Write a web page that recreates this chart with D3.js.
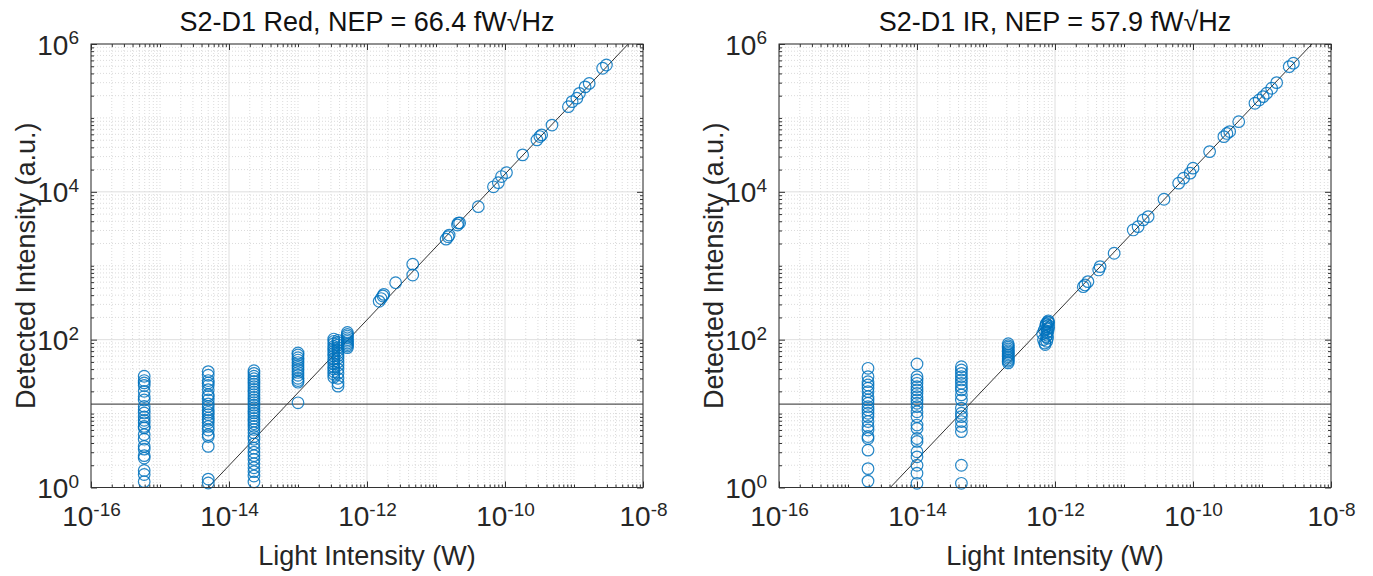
<!DOCTYPE html>
<html>
<head>
<meta charset="utf-8">
<script src="https://cdn.jsdelivr.net/npm/d3@7"></script>
<style>
  body { margin: 0; background: #fff; }
  svg { display: block; font-family: "Liberation Sans", Arial, Helvetica, sans-serif; }
</style>
</head>
<body>
<div id="chart"></div>
<script>
// ---- data ----
// Red panel: low-power columns (one light level, many repeats)
const redColumnsX = [5.9e-16, 5.0e-15, 2.3e-14, 1.0e-13, 3.3e-13, 3.8e-13, 5.2e-13];
const redColumnsY = [
  [32, 28, 26, 24, 20, 17, 15.3, 12.5, 11.3, 10.2, 9.0, 8.1, 7.5, 6.7, 6.4, 5.2, 4.5, 3.6, 3.3, 2.7, 2.5, 1.7, 1.5, 1.2],
  [37, 33, 28, 26, 24, 21, 18, 17, 15.3, 13.5, 12.5, 11.3, 10.4, 9.7, 8.7, 8.1, 7.5, 6.7, 6.0, 5.2, 4.9, 3.6, 1.3, 1.15],
  [38, 35, 32, 29.6, 27.3, 25.1, 23.2, 21.3, 19.6, 18.1, 16.6, 15.3, 14.1, 13.0, 12.0, 11.0, 10.2, 9.4, 8.6, 7.9, 7.3,
   6.7, 6.1, 5.5, 4.9, 4.5, 3.9, 3.4, 3.0, 2.7, 2.4, 2.1, 1.85, 1.64, 1.43, 1.19],
  [66, 62, 57, 53, 49, 45, 42, 39, 36, 33, 30, 28, 26.6, 14],
  [102, 95, 88, 81, 76, 70, 65, 60, 55, 51, 47, 43, 40, 37, 34, 31],
  [98, 92, 85, 78, 72, 66, 61, 56, 50, 45, 40, 35, 30, 26, 23.5],
  [125, 118, 112, 106, 100, 95, 90, 86, 82, 78]
];
// Red panel: linear range
const redLinearX = [1.5e-12, 1.6e-12, 1.7e-12, 1.75e-12, 2.6e-12, 4.6e-12, 4.6e-12,
  1.4e-11, 1.5e-11, 1.55e-11, 2.05e-11, 2.1e-11, 2.2e-11, 4.1e-11,
  6.8e-11, 8.0e-11, 8.9e-11, 1.05e-10, 1.8e-10, 2.9e-10, 3.2e-10, 3.4e-10, 4.8e-10,
  8.3e-10, 9.4e-10, 1.1e-9, 1.2e-9, 1.45e-9, 1.66e-9, 2.6e-9, 2.95e-9];
const redLinearY = [330, 360, 390, 410, 590, 1050, 750,
  2290, 2470, 2600, 3560, 3780, 3800, 6300,
  11700, 13300, 16100, 18200, 31600, 50400, 56000, 59000, 80000,
  142000, 166000, 185000, 215000, 263000, 293000, 470000, 520000];
const redFitX = [5.0e-15, 6.1e-9];
const redFitY = [1, 1e6];

// IR panel
const irColumnsX = [1.95e-15, 1.0e-14, 4.4e-14, 2.1e-13];
const irColumnsY = [
  [41, 31.6, 27, 24.4, 22, 19.8, 16.9, 15.3, 13.8, 12.4, 11.2, 10.1, 9.1, 7.8, 6.7, 6.0, 4.9, 4.6, 3.2, 1.8, 1.22],
  [47, 31.6, 28.5, 25.7, 23.1, 20.9, 18.8, 16.9, 15.3, 13.8, 12.4, 10.6, 9.1, 7.0, 6.3, 4.6, 4.2, 3.05, 2.6, 2.0, 1.56, 1.14],
  [43, 38.9, 35, 31.6, 28.5, 25.7, 23.1, 20.9, 17.9, 15.3, 11.8, 10.1, 9.1, 7.8, 6.7, 5.7, 2.0, 1.14],
  [88, 83, 79, 75, 71, 68, 65, 62, 59, 56, 53, 51, 48.5]
];
const irLinearX = [6.6e-13, 6.8e-13, 7.0e-13, 7.1e-13, 7.3e-13, 7.4e-13, 7.5e-13, 7.6e-13, 7.7e-13, 7.8e-13,
  7.9e-13, 8.0e-13, 8.1e-13, 7.2e-13, 7.6e-13, 7.9e-13, 8.1e-13, 7.4e-13, 7.7e-13, 8.0e-13,
  2.57e-12, 2.72e-12, 3.0e-12, 4.3e-12, 4.5e-12, 7.2e-12,
  1.36e-11, 1.6e-11, 1.9e-11, 2.24e-11, 3.8e-11,
  6.2e-11, 7.3e-11, 9.1e-11, 1.0e-10, 1.74e-10,
  2.8e-10, 3.1e-10, 3.4e-10, 4.6e-10,
  7.9e-10, 9.1e-10, 1.04e-9, 1.17e-9, 1.38e-9, 1.63e-9, 2.48e-9, 2.85e-9];
const irLinearY = [120, 100, 135, 90, 150, 110, 165, 125, 140, 105,
  174, 155, 170, 86, 95, 130, 145, 160, 115, 180,
  521, 550, 610, 877, 973, 1476,
  3050, 3380, 4170, 4620, 7940,
  13100, 15300, 17900, 20900, 35000,
  55800, 61600, 65300, 89000,
  158000, 175000, 194000, 216000, 252000, 300000, 494000, 550000];
const irFitX = [4.1e-15, 5.3e-9];
const irFitY = [1, 1e6];

const noiseFloor = 13.4;
const xDomain = [1e-16, 1e-8];
const yDomain = [1, 1e6];
const xMajor = [1e-16, 1e-14, 1e-12, 1e-10, 1e-8];
const yMajor = [1, 1e2, 1e4, 1e6];

const panels = [
  { title: 'S2-D1 Red, NEP = 66.4 fW\u221AHz', left: 91, colsX: redColumnsX, colsY: redColumnsY,
    linX: redLinearX, linY: redLinearY, fitX: redFitX, fitY: redFitY },
  { title: 'S2-D1 IR, NEP = 57.9 fW\u221AHz', left: 779, colsX: irColumnsX, colsY: irColumnsY,
    linX: irLinearX, linY: irLinearY, fitX: irFitX, fitY: irFitY }
];

const W = 1373, H = 576;
const plotW = 552, plotTop = 44, plotBottom = 487.5;
const blue = '#0072BD';

const svg = d3.select('#chart').append('svg').attr('width', W).attr('height', H);

// minor ticks: 1..9 x 10^k
function minorTicks(domain) {
  const out = [];
  const k0 = Math.round(Math.log10(domain[0])), k1 = Math.round(Math.log10(domain[1]));
  for (let k = k0; k < k1; k++) {
    for (let m = 1; m < 10; m++) out.push(m * Math.pow(10, k));
  }
  out.push(domain[1]);
  return out;
}

function supLabel(sel, d) {
  const e = Math.round(Math.log10(d));
  sel.text(null);
  sel.append('tspan').text('10');
  sel.append('tspan').attr('dy', '-0.55em').style('font-size', '19px').text(e);
}

panels.forEach(p => {
  const x = d3.scaleLog().domain(xDomain).range([p.left, p.left + plotW]);
  const y = d3.scaleLog().domain(yDomain).range([plotBottom, plotTop]);
  const g = svg.append('g');

  const xMinor = minorTicks(xDomain).filter(v => !xMajor.some(m => Math.abs(m - v) / m < 1e-6));
  const yMinor = minorTicks(yDomain).filter(v => !yMajor.some(m => Math.abs(m - v) / m < 1e-6));

  // grid
  g.selectAll('.xminor').data(xMinor).enter().append('line')
    .attr('x1', d => x(d)).attr('x2', d => x(d)).attr('y1', plotTop).attr('y2', plotBottom)
    .attr('stroke', '#d2d2d2').attr('stroke-width', 0.8).attr('stroke-dasharray', '1,2');
  g.selectAll('.yminor').data(yMinor).enter().append('line')
    .attr('y1', d => y(d)).attr('y2', d => y(d)).attr('x1', p.left).attr('x2', p.left + plotW)
    .attr('stroke', '#d2d2d2').attr('stroke-width', 0.8).attr('stroke-dasharray', '1,2');
  g.selectAll('.xmaj').data(xMajor).enter().append('line')
    .attr('x1', d => x(d)).attr('x2', d => x(d)).attr('y1', plotTop).attr('y2', plotBottom)
    .attr('stroke', '#dedede').attr('stroke-width', 1);
  g.selectAll('.ymaj').data(yMajor).enter().append('line')
    .attr('y1', d => y(d)).attr('y2', d => y(d)).attr('x1', p.left).attr('x2', p.left + plotW)
    .attr('stroke', '#dedede').attr('stroke-width', 1);

  // axes (ticks inside, all four sides)
  const ax = [
    { a: d3.axisBottom(x), t: `translate(0,${plotBottom})` },
    { a: d3.axisTop(x), t: `translate(0,${plotTop})` },
    { a: d3.axisLeft(y), t: `translate(${p.left},0)` },
    { a: d3.axisRight(y), t: `translate(${p.left + plotW},0)` }
  ];
  ax.forEach((o, i) => {
    const isX = i < 2;
    const minors = isX ? xMinor : yMinor;
    g.append('g').attr('transform', o.t)
      .call(o.a.tickValues(minors).tickSize(-3).tickFormat(''))
      .call(s => s.select('.domain').remove())
      .selectAll('line').attr('stroke', '#333');
    const maj = g.append('g').attr('transform', o.t)
      .call(o.a.tickValues(isX ? xMajor : yMajor).tickSize(-6).tickPadding(12).tickFormat(d => d))
      .call(s => s.select('.domain').remove());
    maj.selectAll('line').attr('stroke', '#333');
    if (i === 0) {
      maj.selectAll('.tick text').attr('fill', '#262626').style('font-size', '28px')
        .attr('dy', '0.95em').each(function(d) { supLabel(d3.select(this), d); });
    } else if (i === 2) {
      maj.selectAll('.tick text').attr('fill', '#262626').style('font-size', '28px')
        .attr('dy', '0.36em').each(function(d) { supLabel(d3.select(this), d); });
    } else {
      maj.selectAll('.tick text').remove();
    }
  });

  // noise floor
  g.append('line')
    .attr('x1', p.left).attr('x2', p.left + plotW)
    .attr('y1', y(noiseFloor)).attr('y2', y(noiseFloor))
    .attr('stroke', '#555').attr('stroke-width', 1.3);

  // fit line
  const fit = p.fitX.map((v, i) => [v, p.fitY[i]]);
  g.append('path').datum(fit)
    .attr('d', d3.line().x(d => x(d[0])).y(d => y(d[1])))
    .attr('stroke', '#333').attr('stroke-width', 1).attr('fill', 'none');

  // points
  const pts = [];
  p.colsX.forEach((cx, i) => p.colsY[i].forEach(v => pts.push([cx, v])));
  p.linX.forEach((v, i) => pts.push([v, p.linY[i]]));
  g.selectAll('.pt').data(pts).enter().append('circle')
    .attr('cx', d => x(d[0])).attr('cy', d => y(d[1])).attr('r', 5.8)
    .attr('fill', 'none').attr('stroke', blue).attr('stroke-width', 1.2).attr('stroke-opacity', 0.85);

  // box
  g.append('rect').attr('x', p.left).attr('y', plotTop).attr('width', plotW).attr('height', plotBottom - plotTop)
    .attr('fill', 'none').attr('stroke', '#333').attr('stroke-width', 1);

  // titles & labels
  const cx = p.left + plotW / 2;
  g.append('text').attr('x', cx).attr('y', 31).attr('text-anchor', 'middle')
    .attr('fill', '#111').style('font-size', '27px').text(p.title);
  g.append('text').attr('x', cx).attr('y', 565).attr('text-anchor', 'middle')
    .attr('fill', '#262626').style('font-size', '27px').text('Light Intensity (W)');
  g.append('text')
    .attr('transform', `translate(${p.left - 56},${(plotTop + plotBottom) / 2}) rotate(-90)`)
    .attr('text-anchor', 'middle').attr('fill', '#262626').style('font-size', '27px')
    .text('Detected Intensity (a.u.)');
});
</script>
</body>
</html>
